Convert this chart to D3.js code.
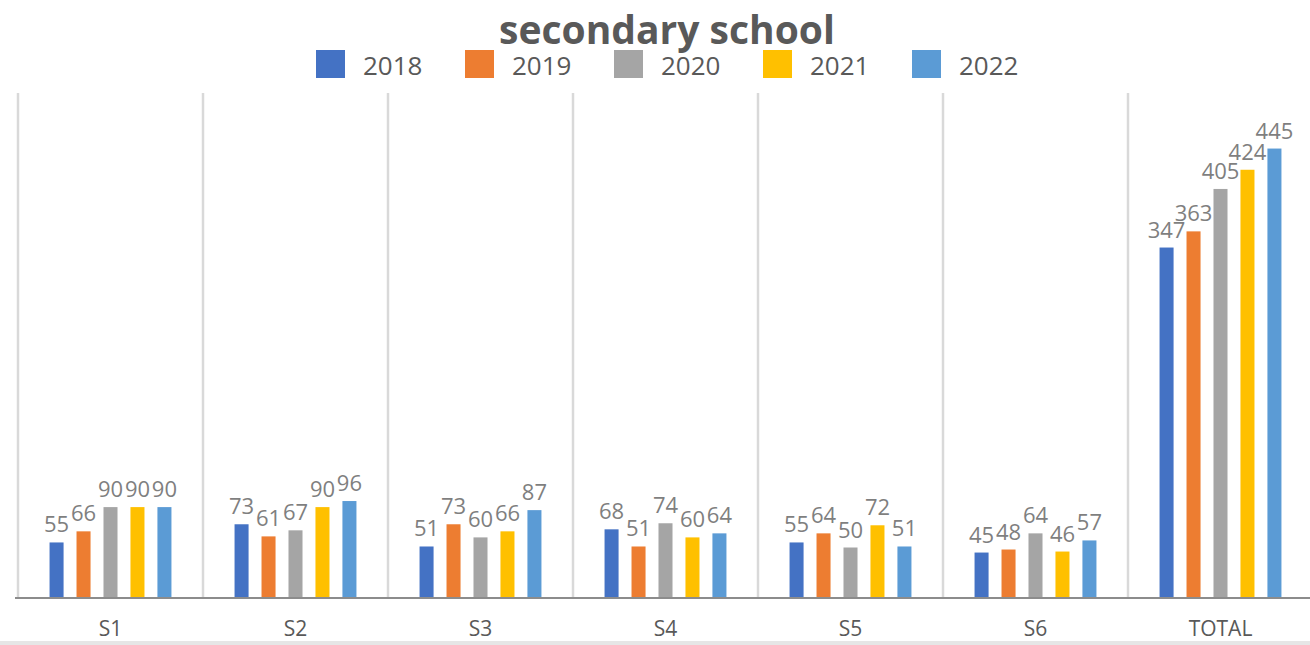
<!DOCTYPE html>
<html>
<head>
<meta charset="utf-8">
<script src="https://cdn.jsdelivr.net/npm/d3@7"></script>
<style>
  body { margin: 0; background: #fff; }
  svg { display: block; }
</style>
</head>
<body>
<div id="container"></div>
<script>
// data
let categories = ["S1", "S2", "S3", "S4", "S5", "S6", "TOTAL"];
let years = ["2018", "2019", "2020", "2021", "2022"];
let v2018 = [55, 73, 51, 68, 55, 45, 347];
let v2019 = [66, 61, 73, 51, 64, 48, 363];
let v2020 = [90, 67, 60, 74, 50, 64, 405];
let v2021 = [90, 90, 66, 60, 72, 46, 424];
let v2022 = [90, 96, 87, 64, 51, 57, 445];
let colors = ["#4472c4", "#ed7d31", "#a5a5a5", "#ffc000", "#5b9bd5"];

let w = 1310;
let h = 645;

let viz = d3.select("#container")
  .append("svg")
    .attr("width", w)
    .attr("height", h)
    .style("font-family", "'Open Sans', sans-serif");

let series = [v2018, v2019, v2020, v2021, v2022];
let rows = [];
categories.forEach(function(c, i) {
  years.forEach(function(y, j) {
    rows.push({cat: c, year: y, value: series[j][i], color: colors[j]});
  });
});

// scales
let x0 = d3.scaleBand().domain(categories).range([18, 1313]);
let x1 = d3.scaleBand().domain(years).range([0, x0.bandwidth()])
  .paddingInner(0.48).paddingOuter(1.17);
let y = d3.scaleLinear().domain([0, 500]).range([598, 93]);

// bottom grey strip
viz.append("rect")
  .attr("x", 0).attr("y", 641).attr("width", w).attr("height", 4)
  .attr("fill", "#e6e6e6");

// vertical separators between categories
let seps = categories.map(function(c) { return x0(c); });
viz.selectAll(".sep").data(seps).enter()
  .append("line")
    .attr("class", "sep")
    .attr("x1", function(d) { return d; })
    .attr("x2", function(d) { return d; })
    .attr("y1", y(500))
    .attr("y2", y(0))
    .style("stroke", "#d9d9d9")
    .style("stroke-width", 2.5);

// bars
viz.selectAll(".bar").data(rows).enter()
  .append("rect")
    .attr("class", "bar")
    .attr("x", function(d) { return x0(d.cat) + x1(d.year); })
    .attr("y", function(d) { return y(d.value); })
    .attr("width", x1.bandwidth())
    .attr("height", function(d) { return y(0) - y(d.value); })
    .attr("fill", function(d) { return d.color; });

// value labels
viz.selectAll(".vlabel").data(rows).enter()
  .append("text")
    .attr("class", "vlabel")
    .attr("x", function(d) { return x0(d.cat) + x1(d.year) + x1.bandwidth() / 2; })
    .attr("y", function(d) { return y(d.value) - 10; })
    .attr("text-anchor", "middle")
    .style("font-size", "22px")
    .style("fill", "#7f7f7f")
    .text(function(d) { return d.value; });

// x axis
let xAxis = d3.axisBottom(x0).tickSize(0).tickPadding(23);
let gx = viz.append("g")
  .attr("transform", "translate(0," + y(0) + ")")
  .call(xAxis);
gx.select(".domain").remove();
gx.attr("font-size", null).attr("font-family", null);
gx.selectAll("text")
  .style("font-family", "'Open Sans', sans-serif")
  .style("font-size", "21px")
  .style("fill", "#595959");
viz.append("line")
  .attr("x1", 15).attr("x2", w)
  .attr("y1", y(0)).attr("y2", y(0))
  .style("stroke", "#8c8c8c")
  .style("stroke-width", 2);

// title
viz.append("text")
  .attr("x", 667)
  .attr("y", 44)
  .attr("text-anchor", "middle")
  .style("font-size", "39px")
  .style("font-weight", "bold")
  .style("fill", "#595959")
  .text("secondary school");

// legend
let legendX = d3.scalePoint().domain(years).range([316, 912]);
let legend = viz.selectAll(".legend").data(years).enter()
  .append("g")
    .attr("class", "legend")
    .attr("transform", function(d) { return "translate(" + legendX(d) + ",50)"; });
legend.append("rect")
  .attr("width", 29).attr("height", 28)
  .attr("fill", function(d, i) { return colors[i]; });
legend.append("text")
  .attr("x", 47)
  .attr("y", 25)
  .style("font-size", "26px")
  .style("fill", "#595959")
  .text(function(d) { return d; });
</script>
</body>
</html>
